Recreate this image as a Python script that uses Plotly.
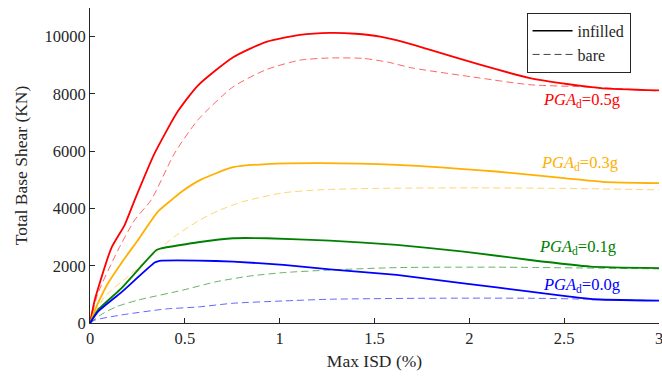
import plotly.graph_objects as go

# ---- data (Max ISD %, Total Base Shear kN) ----
red_inf_x = [0, 0.025, 0.051, 0.112, 0.183, 0.236, 0.341, 0.464, 0.57, 0.755, 0.93, 1.107, 1.265, 1.4, 1.53, 1.66, 1.79, 2.056, 2.32, 2.58, 2.69, 3.0]
red_inf_y = [0, 800, 1390, 2610, 3430, 4300, 5930, 7400, 8300, 9280, 9820, 10060, 10130, 10100, 10000, 9800, 9545, 9020, 8555, 8290, 8205, 8120]
red_bare_x = [0, 0.042, 0.148, 0.236, 0.323, 0.446, 0.57, 0.755, 0.93, 1.107, 1.265, 1.44, 1.57, 1.70, 2.056, 2.32, 2.64, 3.0]
red_bare_y = [0, 1040, 2550, 3600, 4300, 5930, 7100, 8250, 8850, 9180, 9255, 9240, 9110, 8905, 8555, 8320, 8240, 8100]

org_inf_x = [0, 0.042, 0.095, 0.165, 0.253, 0.358, 0.43, 0.49, 0.58, 0.755, 0.93, 1.21, 1.617, 2.14, 2.5, 2.70, 3.0]
org_inf_y = [0, 690, 1390, 2090, 2900, 3890, 4300, 4620, 4990, 5440, 5550, 5585, 5525, 5290, 5060, 4930, 4885]
org_bare_x = [0, 0.077, 0.2, 0.341, 0.446, 0.58, 0.68, 0.807, 1.017, 1.21, 1.5, 2.0, 2.5, 3.0]
org_bare_y = [0, 920, 1620, 2440, 3020, 3600, 3930, 4240, 4545, 4650, 4700, 4720, 4700, 4650]

grn_inf_x = [0, 0.042, 0.165, 0.35, 0.376, 0.57, 0.755, 0.93, 1.265, 1.617, 1.97, 2.32, 2.64, 3.0]
grn_inf_y = [0, 455, 1210, 2550, 2610, 2820, 2960, 2960, 2880, 2730, 2495, 2200, 1970, 1915]
grn_bare_x = [0, 0.06, 0.14, 0.253, 0.49, 0.668, 0.843, 1.02, 1.265, 1.617, 2.14, 3.0]
grn_bare_y = [0, 300, 570, 800, 1150, 1445, 1640, 1760, 1850, 1935, 1950, 1890]

blu_inf_x = [0, 0.042, 0.165, 0.341, 0.367, 0.57, 0.755, 1.02, 1.265, 1.617, 1.97, 2.32, 2.53, 2.65, 3.0]
blu_inf_y = [0, 400, 1070, 2110, 2170, 2180, 2145, 2030, 1875, 1680, 1385, 1095, 920, 830, 780]
blu_bare_x = [0, 0.025, 0.165, 0.40, 0.57, 0.755, 1.02, 1.265, 1.79, 2.32, 2.64, 3.0]
blu_bare_y = [0, 100, 280, 490, 560, 690, 770, 830, 865, 865, 830, 780]

labels = ["0.5g", "0.3g", "0.1g", "0.0g"]
label_x = [2.59, 2.58, 2.57, 2.59]
label_y = [7800, 5590, 2660, 1330]

x_ticks = [0, 0.5, 1, 1.5, 2, 2.5, 3]
x_ticktext = ["0", "0.5", "1", "1.5", "2", "2.5", "3"]
y_ticks = [0, 2000, 4000, 6000, 8000, 10000]
y_ticktext = ["0", "2000", "4000", "6000", "8000", "10000"]

colors = ["#ff0000", "#ffb000", "#008000", "#0000ff"]
dash_colors = ["rgba(255,0,0,0.6)", "rgba(255,176,0,0.55)", "rgba(0,128,0,0.6)", "rgba(0,0,255,0.6)"]
smooth = [0.6, 0.6, 0.4, 0.4]

FONT = "Times New Roman, Liberation Serif, serif"
fig = go.Figure()

series = [
    (red_inf_x, red_inf_y, red_bare_x, red_bare_y),
    (org_inf_x, org_inf_y, org_bare_x, org_bare_y),
    (grn_inf_x, grn_inf_y, grn_bare_x, grn_bare_y),
    (blu_inf_x, blu_inf_y, blu_bare_x, blu_bare_y),
]
for i, (xi, yi, xb, yb) in enumerate(series):
    fig.add_trace(go.Scatter(x=xb, y=yb, mode="lines", showlegend=False,
                             line=dict(color=dash_colors[i], width=1, dash="7px,4px", shape="spline", smoothing=0.6),
                             hoverinfo="skip"))
    fig.add_trace(go.Scatter(x=xi, y=yi, mode="lines", showlegend=False,
                             line=dict(color=colors[i], width=1.8, shape="spline", smoothing=smooth[i]),
                             hoverinfo="skip"))

# legend entries
fig.add_trace(go.Scatter(x=[None], y=[None], mode="lines", name="infilled",
                         line=dict(color="black", width=1.5)))
fig.add_trace(go.Scatter(x=[None], y=[None], mode="lines", name="bare",
                         line=dict(color="#444", width=1, dash="7px,4px")))

for i, lab in enumerate(labels):
    fig.add_annotation(x=label_x[i], y=label_y[i], xref="x", yref="y",
                       text="<i>PGA</i><sub>d</sub>=" + lab, showarrow=False,
                       font=dict(family=FONT, size=16.5, color=colors[i]))

fig.update_layout(
    width=662, height=376,
    margin=dict(l=90, r=3, t=8, b=53),
    paper_bgcolor="white", plot_bgcolor="white",
    font=dict(family=FONT, size=16.5, color="#262626"),
    legend=dict(x=0.95, y=0.985, xanchor="right", yanchor="top",
                bgcolor="white", bordercolor="#262626", borderwidth=1,
                font=dict(family=FONT, size=16, color="#262626"),
                tracegroupgap=0, itemwidth=40),
    xaxis=dict(range=[0, 3], tickvals=x_ticks, ticktext=x_ticktext, automargin=False,
               ticklabeloverflow="allow",
               showgrid=False, zeroline=False, showline=True, linecolor="#262626", linewidth=1,
               ticks="inside", ticklen=5, tickcolor="#262626",
               title=dict(text="Max ISD (%)", font=dict(family=FONT, size=17.5), standoff=7),
               tickfont=dict(family=FONT, size=16.5)),
    yaxis=dict(range=[0, 11000], tickvals=y_ticks, ticktext=y_ticktext, automargin=False,
               showgrid=False, zeroline=False, showline=True, linecolor="#262626", linewidth=1,
               ticks="inside", ticklen=5, tickcolor="#262626",
               title=dict(text="Total Base Shear (KN)", font=dict(family=FONT, size=17.5), standoff=12),
               tickfont=dict(family=FONT, size=16.5)),
)

fig.write_html("out.html", config={"displayModeBar": False},
               post_script="document.body.style.margin='0';document.body.style.overflow='hidden';")
